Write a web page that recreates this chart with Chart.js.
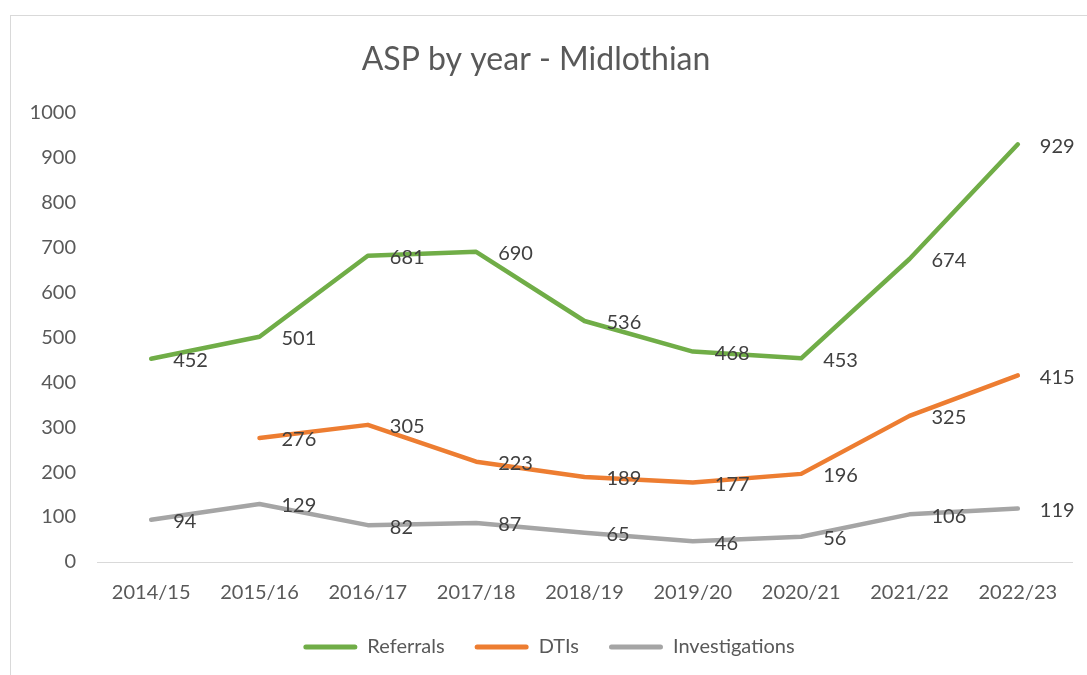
<!DOCTYPE html>
<html>
<head>
<meta charset="utf-8">
<script src="https://cdn.jsdelivr.net/npm/chart.js@4"></script>
<style>
  html, body { margin: 0; padding: 0; background: #fff; overflow: hidden; }
  #wrap { position: relative; width: 1087px; height: 675px; }
  #frame { position: absolute; left: 10px; top: 15px; width: 1100px; height: 700px; border: 1px solid #d9d9d9; }
  canvas { position: absolute; left: 0; top: 0; }
</style>
</head>
<body>
<div id="wrap">
  <div id="frame"></div>
  <canvas id="aspChart" width="1087" height="675"></canvas>
</div>
<script>
const years = ["2014/15", "2015/16", "2016/17", "2017/18", "2018/19", "2019/20", "2020/21", "2021/22", "2022/23"];
const referrals = [452, 501, 681, 690, 536, 468, 453, 674, 929];
const dtis = [null, 276, 305, 223, 189, 177, 196, 325, 415];
const investigations = [94, 129, 82, 87, 65, 46, 56, 106, 119];

const FONT = "Lato, 'Open Sans', sans-serif";
const LEGEND_TRIM = 17; // legend box is shorter than its padding would make it
const LEGEND_SHIFT_X = 13;

// labels drawn to the right of each point, like Excel's "Right" position
const pointLabels = {
    id: "pointLabels",
    afterDatasetsDraw(chart) {
        const ctx = chart.ctx;
        ctx.save();
        ctx.font = "20px " + FONT;
        ctx.fillStyle = "#404040";
        ctx.textAlign = "left";
        ctx.textBaseline = "middle";
        chart.data.datasets.forEach((ds, i) => {
            const meta = chart.getDatasetMeta(i);
            meta.data.forEach((pt, j) => {
                const v = ds.data[j];
                if (v === null || v === undefined) return;
                ctx.fillText(String(v), pt.x + 22, pt.y + 2);
            });
        });
        ctx.restore();
    },
};

// keep wide gaps between legend items but a slimmer legend box
const legendTrim = {
    id: "legendTrim",
    beforeUpdate(chart) {
        const lg = chart.legend;
        if (!lg || lg._trimmed) return;
        lg._trimmed = true;
        const fit = lg.fit;
        lg.fit = function () {
            fit.call(this);
            this.height -= LEGEND_TRIM;
            this.bottom = this.top + this.height;
        };
        const draw = lg.draw;
        lg.draw = function () {
            this.top -= LEGEND_TRIM;
            this.left += LEGEND_SHIFT_X;
            this.right += LEGEND_SHIFT_X;
            draw.call(this);
            this.top += LEGEND_TRIM;
            this.left -= LEGEND_SHIFT_X;
            this.right -= LEGEND_SHIFT_X;
        };
    },
};

function lineSet(label, data, color) {
    return {
        label: label,
        data: data,
        borderColor: color,
        backgroundColor: color,
        borderWidth: 4.5,
        borderCapStyle: "round",
        borderJoinStyle: "round",
        pointRadius: 0,
        pointHoverRadius: 0,
        tension: 0,
        fill: false,
    };
}

new Chart(document.getElementById("aspChart").getContext("2d"), {
    type: "line",
    data: {
        labels: years,
        datasets: [
            lineSet("Referrals", referrals, "#70AD47"),
            lineSet("DTIs", dtis, "#ED7D31"),
            lineSet("Investigations", investigations, "#A5A5A5"),
        ],
    },
    options: {
        responsive: false,
        animation: false,
        layout: { padding: { left: 0, right: 15, top: 0, bottom: 8 } },
        plugins: {
            title: {
                display: true,
                text: "ASP by year - Midlothian",
                color: "#595959",
                font: { family: FONT, size: 32, weight: "normal" },
                padding: { top: 40, bottom: 34 },
            },
            legend: {
                display: true,
                position: "bottom",
                labels: {
                    color: "#595959",
                    font: { family: FONT, size: 20 },
                    boxWidth: 54,
                    boxHeight: 5,
                    useBorderRadius: true,
                    borderRadius: 2.5,
                    padding: 30,
                    generateLabels(chart) {
                        return Chart.defaults.plugins.legend.labels.generateLabels(chart)
                            .map((l) => Object.assign(l, { lineWidth: 0 }));
                    },
                },
            },
            tooltip: { enabled: false },
        },
        scales: {
            x: {
                offset: true,
                grid: { display: false, drawTicks: false },
                border: { display: true, color: "#d9d9d9", width: 1 },
                ticks: { color: "#595959", font: { family: FONT, size: 20 }, padding: 19, maxRotation: 0 },
            },
            y: {
                min: 0,
                max: 1000,
                grid: { display: false, drawTicks: false },
                border: { display: false },
                ticks: {
                    stepSize: 100,
                    color: "#595959",
                    font: { family: FONT, size: 20 },
                    padding: 21,
                    callback: (v) => String(v),
                },
                afterFit(scale) { scale.width = 97; },
            },
        },
    },
    plugins: [pointLabels, legendTrim],
});
</script>
</body>
</html>
